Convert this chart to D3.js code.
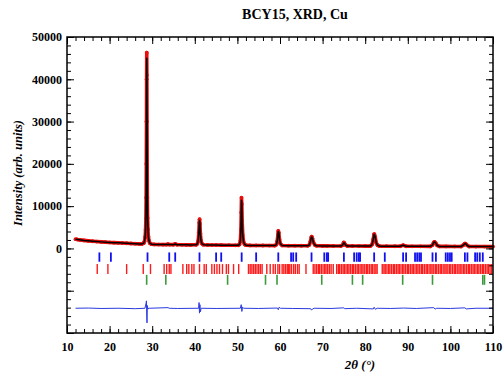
<!DOCTYPE html>
<html><head><meta charset="utf-8">
<script src="https://cdn.jsdelivr.net/npm/d3@7"></script>
<style>
html,body{margin:0;padding:0;background:#fff;}
svg text{font-family:"Liberation Serif","Times New Roman",serif;}
</style></head>
<body><svg id="c" width="504" height="378"></svg>
<script>
// ---- data ----
const title = "BCY15, XRD, Cu";
const xLabel = "2\u03b8 (\u00b0)";
const yLabel = "Intensity (arb. units)";
const xTickValues = [10,20,30,40,50,60,70,80,90,100,110];
const yTickValues = [0,10000,20000,30000,40000,50000];

const twoTheta = [12.0,12.5,13.0,14.0,15.0,16.0,17.0,18.0,19.0,20.0,21.0,22.0,23.0,24.0,25.0,26.0,27.0,27.6,
 28.0,28.2,28.35,28.45,28.52,28.58,28.62,28.66,28.69,28.72,28.75,28.78,28.82,28.86,28.92,29.0,29.1,29.25,29.45,29.8,
 30.5,31.5,32.5,33.4,33.7,34.0,35.0,35.4,35.8,37.0,38.0,39.0,
 40.3,40.6,40.8,40.95,41.05,41.12,41.2,41.3,41.45,41.65,42.0,43.0,44.0,45.0,46.2,48.0,49.5,
 50.2,50.5,50.7,50.83,50.9,50.96,51.03,51.12,51.25,51.45,51.7,52.0,53.0,54.4,56.0,57.5,
 58.8,59.15,59.35,59.5,59.6,59.72,59.88,60.1,60.5,62.0,63.5,65.0,
 66.5,66.9,67.15,67.35,67.45,67.6,67.85,68.2,68.6,70.0,71.0,72.5,
 74.3,74.7,74.95,75.1,75.4,75.8,77.0,78.5,80.0,
 81.2,81.6,81.9,82.05,82.15,82.35,82.6,82.9,83.4,85.0,87.0,
 88.2,88.9,89.6,91.0,93.0,95.3,95.8,96.1,96.3,96.6,96.9,97.4,99.0,101.0,
 102.5,103.0,103.35,103.55,103.9,104.4,106.0,108.0,110.0];
const yObs = [2200,2100,2030,1900,1790,1700,1620,1550,1480,1420,1370,1320,1270,1220,1170,1120,1070,1050,
 1250,1700,2700,4400,7000,12000,20000,30000,40000,46300,41000,30000,19500,12000,7200,4500,2800,1800,1250,1000,
 950,920,900,900,1020,900,890,1080,880,860,850,840,
 860,1100,1800,3800,6100,6900,5800,3600,1900,1150,880,820,800,800,790,760,740,
 750,950,1800,4500,8500,12000,10500,6500,3200,1500,950,760,720,710,690,680,
 670,900,1700,3200,4150,3700,2100,1100,700,650,640,630,
 620,850,1700,2600,2800,2400,1400,800,620,600,600,590,
 580,800,1400,1300,800,580,570,560,550,
 545,900,2200,3300,3400,2700,1300,750,540,530,520,
 520,780,510,505,500,490,800,1450,1550,1200,700,480,475,465,
 460,750,1150,1150,750,460,450,440,430];
const yCalc = [2180,2110,2030,1900,1800,1700,1620,1550,1490,1420,1370,1320,1270,1220,1170,1120,1070,1060,
 1260,1750,2800,4500,7100,12500,21000,31000,40500,45000,40500,32000,21000,12800,7300,4500,2800,1800,1250,1000,
 950,920,900,900,1000,900,890,1060,880,860,850,840,
 860,1100,1850,3700,6000,6600,6000,3500,1900,1150,880,820,800,790,780,760,740,
 750,950,1800,4600,8800,11400,10800,6500,3300,1500,950,760,720,710,690,680,
 670,900,1700,3300,4000,3800,2100,1100,700,650,640,630,
 620,850,1700,2600,2750,2450,1400,800,620,600,600,590,
 580,800,1350,1300,800,580,570,560,550,
 545,900,2200,3250,3350,2700,1300,750,540,530,520,
 520,760,510,505,500,490,800,1450,1520,1200,700,480,475,465,
 460,750,1130,1150,750,460,450,440,430];

const diffTheta = [12,15,18,22,26,28.3,28.55,28.65,28.72,28.78,28.86,29.0,29.3,33.7,34,36,40.9,41.0,41.1,41.2,41.3,41.5,45,
 50.7,50.9,51.05,51.2,51.5,55,59.4,59.6,59.8,60.1,63,67.2,67.4,67.6,68,72,75,75.2,78,81.9,82.1,82.4,82.8,86,89,92,
 96.1,96.4,96.8,100,103.4,103.7,106,110];
const diffVals = [-14150,-14100,-14200,-14150,-14250,-14150,-13000,-12400,-16000,-17600,-13500,-14300,-14150,-14000,-14150,-14200,-14150,-12800,-15300,-13300,-15000,-14150,-14200,
 -14150,-13300,-14900,-13900,-14150,-14200,-14100,-14500,-13900,-14150,-14200,-14250,-14600,-14350,-14150,-14200,-14050,-14250,-14150,-14300,-13900,-14400,-14150,-14200,-14100,-14200,
 -14000,-14350,-14150,-14200,-14050,-14300,-14150,-14150];

const braggBlue = [17.6,20.3,28.9,34.0,35.4,41.1,45.0,46.2,51.0,54.4,59.6,62.6,63.1,63.8,67.4,70.4,71.0,71.3,75.0,
 77.4,78.0,78.5,78.8,82.1,84.6,88.9,89.6,91.7,92.2,92.7,93.1,95.8,96.6,98.9,99.4,99.9,100.3,103.4,104.0,105.8,106.3,106.9,107.6];
const braggRed = [17.1,19.6,24.0,27.9,29.6,32.8,33.4,34.0,34.4,37.2,38.1,38.6,39.3,39.8,41.1,42.2,42.7,44.0,44.6,45.2,45.8,46.5,47.4,47.9,49.1,50.3,
 52.6,53.0,53.4,53.8,54.2,54.6,55.0,55.4,55.8,56.9,57.7,58.4,58.9,59.5,59.9,60.5,60.9,61.3,61.7,62.0,62.3,62.7,63.2,63.6,64.1,64.5,66.1,
 67.8,68.2,68.6,69.0,69.3,69.7,70.1,70.5,70.8,71.2,71.6,72.0,72.5,
 73.3,73.7,74.0,74.4,74.8,75.1,75.5,75.9,76.2,76.6,77.0,77.3,77.7,78.1,78.4,78.8,79.2,79.5,79.9,80.3,80.6,81.0,81.4,81.7,82.1,82.5,82.8,
 84.0,84.4,84.7,85.1,85.5,85.8,86.2,86.6,86.9,87.3,87.7,88.0,88.4,88.8,89.1,89.5,89.9,90.2,90.6,91.0,91.3,91.7,92.1,92.4,92.8,93.2,93.5,93.9,
 94.3,94.6,95.0,95.4,95.7,96.1,96.5,96.8,97.2,97.6,97.9,98.3,98.7,99.0,99.4,99.8,100.1,100.5,100.9,101.2,101.6,102.0,102.3,102.7,103.1,103.4,
 103.8,104.2,104.5,104.9,105.3,105.6,106.0,106.4,106.7,107.1,107.5,107.8,108.2,108.6,108.9,109.3,109.7];
const braggGreen = [28.7,33.2,47.7,56.6,59.3,69.8,77.0,79.4,88.8,95.8,107.6,108.0];

// ---- drawing ----
const svg = d3.select("#c");
const x = d3.scaleLinear().domain([10,110]).range([67,493]);
const y = d3.scaleLinear().domain([-20000,50000]).range([333,37]);
const font = '"Liberation Serif","Times New Roman",serif';

// Bragg tick rows
function braggRow(vals, y0, y1, color, w){
  svg.append("g").selectAll("line").data(vals).join("line")
    .attr("x1", d=>x(d)).attr("x2", d=>x(d))
    .attr("y1", y(y0)).attr("y2", y(y1))
    .attr("stroke", color).attr("stroke-width", w);
}
braggRow(braggBlue, -950, -3150, "#1010f0", 1.8);
braggRow(braggRed, -3700, -6050, "#ff1a1a", 1.4);
braggRow(braggGreen, -6250, -8600, "#3c9a3c", 1.6);

// difference curve
svg.append("path")
  .datum(diffTheta.map((t,i)=>[t,diffVals[i]]))
  .attr("fill","none").attr("stroke","#2a3ae0").attr("stroke-width",1)
  .attr("d", d3.line().x(d=>x(d[0])).y(d=>y(d[1])));

// observed
const obs = twoTheta.map((t,i)=>[t,yObs[i]]);
svg.append("path").datum(obs)
  .attr("fill","none").attr("stroke","#e8100f").attr("stroke-width",3.6)
  .attr("stroke-linejoin","round")
  .attr("d", d3.line().x(d=>x(d[0])).y(d=>y(d[1])));
svg.append("g").selectAll("circle").data(obs).join("circle")
  .attr("cx", d=>x(d[0])).attr("cy", d=>y(d[1])).attr("r", 1.9).attr("fill","#e8100f");

// calculated
svg.append("path")
  .datum(twoTheta.map((t,i)=>[t,yCalc[i]]))
  .attr("fill","none").attr("stroke","#000").attr("stroke-width",1.5)
  .attr("stroke-linejoin","round")
  .attr("d", d3.line().x(d=>x(d[0])).y(d=>y(d[1])));

// axes
const xMinor = d3.range(10,110.1,2);
const yMinor = d3.range(-20000,50001,2000);
const yMajor = d3.range(-20000,50001,10000);
function styleAxis(g){
  g.select(".domain").remove();
  g.selectAll("line").attr("stroke","#000").attr("stroke-width",1);
  g.selectAll("text").attr("font-family",font).attr("font-weight","bold").attr("font-size","12px").attr("fill","#000");
}
svg.append("g").attr("transform","translate(0,333)")
  .call(d3.axisBottom(x).tickValues(xMinor).tickSize(-4).tickFormat("")).call(styleAxis);
svg.append("g").attr("transform","translate(0,333)")
  .call(d3.axisBottom(x).tickValues(xTickValues).tickSize(-7).tickPadding(9).tickFormat(d3.format("d"))).call(styleAxis);
svg.append("g").attr("transform","translate(0,37)")
  .call(d3.axisTop(x).tickValues(xMinor).tickSize(-4).tickFormat("")).call(styleAxis);
svg.append("g").attr("transform","translate(0,37)")
  .call(d3.axisTop(x).tickValues(xTickValues).tickSize(-7).tickFormat("")).call(styleAxis);
svg.append("g").attr("transform","translate(67,0)")
  .call(d3.axisLeft(y).tickValues(yMinor).tickSize(-4).tickFormat("")).call(styleAxis);
svg.append("g").attr("transform","translate(67,0)")
  .call(d3.axisLeft(y).tickValues(yMajor).tickSize(-7).tickPadding(5)
    .tickFormat(d => yTickValues.includes(d) ? d3.format("d")(d) : "")).call(styleAxis);
svg.append("g").attr("transform","translate(493,0)")
  .call(d3.axisRight(y).tickValues(yMinor).tickSize(-4).tickFormat("")).call(styleAxis);
svg.append("g").attr("transform","translate(493,0)")
  .call(d3.axisRight(y).tickValues(yMajor).tickSize(-7).tickFormat("")).call(styleAxis);

// frame
svg.append("rect").attr("x",67).attr("y",37).attr("width",426).attr("height",296)
  .attr("fill","none").attr("stroke","#000").attr("stroke-width",1.5);

// texts
svg.append("text").attr("x",295).attr("y",19).attr("text-anchor","middle")
  .attr("font-family",font).attr("font-weight","bold").attr("font-size","14px").text(title);
svg.append("text").attr("x",360).attr("y",369).attr("text-anchor","middle")
  .attr("font-family",font).attr("font-weight","bold").attr("font-style","italic").attr("font-size","13px").text(xLabel);
svg.append("text").attr("transform","translate(22,173) rotate(-90)").attr("text-anchor","middle")
  .attr("font-family",font).attr("font-weight","bold").attr("font-style","italic").attr("font-size","12.5px").text(yLabel);
</script></body></html>
